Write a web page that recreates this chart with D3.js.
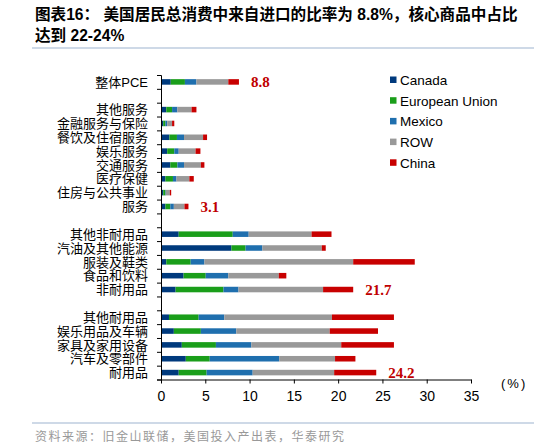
<!DOCTYPE html>
<html>
<head>
<meta charset="utf-8">
<script src="https://cdn.jsdelivr.net/npm/d3@7"></script>
<style>
  body { margin: 0; background: #fff; }
  svg { display: block; font-family: "Liberation Sans", "Noto Sans CJK SC", sans-serif; }
</style>
</head>
<body>
<script>
// 行（空行は区切り）
const categories = [
  "整体PCE", "",
  "其他服务", "金融服务与保险", "餐饮及住宿服务", "娱乐服务", "交通服务", "医疗保健", "住房与公共事业", "服务", "",
  "其他非耐用品", "汽油及其他能源", "服装及鞋类", "食品和饮料", "非耐用品", "",
  "其他耐用品", "娱乐用品及车辆", "家具及家用设备", "汽车及零部件", "耐用品"
];
const seriesNames = ["Canada", "European Union", "Mexico", "ROW", "China"];
const colors = ["#003a7d", "#1a9e1a", "#1f6fae", "#999999", "#c80000"];

// 各国の比率（%）
const canada = [1.1, null, 0.6, 0.25, 0.95, 0.7, 1.05, 0.5, 0.25, 0.5, null, 2.0, 7.95, 0.6, 2.55, 1.65, null, 0.9, 1.45, 2.35, 2.8, 2.0];
const eu     = [1.6, null, 0.65, 0.25, 0.85, 0.8, 0.8, 0.85, 0.25, 0.55, null, 6.1, 1.6, 2.75, 2.5, 5.4, null, 3.35, 3.05, 3.85, 2.7, 3.15];
const mexico = [1.3, null, 0.6, 0.2, 0.8, 0.5, 0.75, 0.4, 0.05, 0.4, null, 1.8, 1.9, 1.55, 2.55, 1.7, null, 2.9, 4.0, 4.0, 7.85, 5.2];
const row    = [3.6, null, 1.6, 0.55, 2.15, 1.9, 1.9, 1.45, 0.45, 1.2, null, 7.1, 6.7, 16.8, 5.7, 9.55, null, 12.15, 10.55, 10.15, 6.3, 9.2];
const china  = [1.2, null, 0.55, 0.25, 0.45, 0.55, 0.4, 0.5, 0.15, 0.45, null, 2.25, 0.45, 6.95, 0.85, 3.4, null, 7.0, 5.45, 5.95, 2.3, 4.75];

// 合計ラベル
const totalRows = [0, 9, 15, 21];
const totalLabels = ["8.8", "3.1", "21.7", "24.2"];
const xTicks = [0, 5, 10, 15, 20, 25, 30, 35];

const w = 534;
const h = 447;

const svg = d3.select("body").append("svg").attr("width", w).attr("height", h);

// タイトル
svg.append("text").attr("x", 35).attr("y", 20)
  .attr("font-size", "15.6px").attr("font-weight", "bold").attr("fill", "#000")
  .text("图表16：  美国居民总消费中来自进口的比率为 8.8%，核心商品中占比");
svg.append("text").attr("x", 35).attr("y", 41)
  .attr("font-size", "15.6px").attr("font-weight", "bold").attr("fill", "#000")
  .text("达到 22-24%");
svg.append("line").attr("x1", 32).attr("x2", 534).attr("y1", 48).attr("y2", 48)
  .attr("stroke", "#9db3cf").attr("stroke-width", 1);

// スケール
const xScale = d3.scaleLinear().domain([0, 35]).range([161, 471]);
const idx = d3.range(categories.length);
const yScale = d3.scaleBand().domain(idx).range([75, 379.5]).paddingInner(0.6).paddingOuter(0.3);
const yEdge = d3.scaleLinear().domain([0, categories.length]).range([75, 379.5]);

// 積み上げ
const table = idx.map(i => ({
  i: i,
  "Canada": canada[i] || 0,
  "European Union": eu[i] || 0,
  "Mexico": mexico[i] || 0,
  "ROW": row[i] || 0,
  "China": china[i] || 0
}));
const stacked = d3.stack().keys(seriesNames)(table);

svg.append("g").selectAll("g")
  .data(stacked)
  .enter().append("g")
  .attr("fill", (d, k) => colors[k])
  .selectAll("rect")
  .data(d => d.filter(p => p[1] - p[0] > 0))
  .enter().append("rect")
  .attr("x", d => xScale(d[0]))
  .attr("width", d => xScale(d[1]) - xScale(d[0]))
  .attr("y", d => yScale(d.data.i))
  .attr("height", yScale.bandwidth());

// Y軸（境界の目盛り）
const yAxisG = svg.append("g").attr("transform", "translate(161,0)")
  .call(d3.axisLeft(yEdge).tickValues(d3.range(categories.length + 1)).tickSize(4).tickFormat(""));
yAxisG.select(".domain").attr("stroke", "#000");
yAxisG.selectAll(".tick line").attr("stroke", "#000");

// Y軸ラベル
svg.append("g").selectAll("text")
  .data(idx.filter(i => categories[i] !== ""))
  .enter().append("text")
  .attr("x", 148)
  .attr("y", i => yScale(i) + yScale.bandwidth() / 2)
  .attr("dy", "0.36em")
  .attr("text-anchor", "end")
  .attr("font-size", "13px")
  .attr("fill", "#000")
  .text(i => categories[i]);

// X軸
const xAxisG = svg.append("g").attr("transform", "translate(0,379.5)")
  .call(d3.axisBottom(xScale).tickValues(xTicks).tickSize(4).tickSizeOuter(0));
xAxisG.selectAll("text").attr("font-size", "14px").attr("dy", "1.05em").attr("fill", "#000")
  .style("font-family", "'Liberation Sans', sans-serif");
xAxisG.select(".domain").attr("stroke", "#000");
xAxisG.selectAll(".tick line").attr("stroke", "#000");

svg.append("text").attr("x", 501).attr("y", 388)
  .attr("font-size", "13px").attr("letter-spacing", "2px").attr("fill", "#000").text("(%)");

// 合計ラベル
svg.append("g").selectAll("text")
  .data(totalRows)
  .enter().append("text")
  .attr("x", (r) => xScale(d3.sum([canada[r], eu[r], mexico[r], row[r], china[r]])) + 12)
  .attr("y", r => yScale(r) + yScale.bandwidth() / 2)
  .attr("dy", "0.36em")
  .attr("font-family", "'Liberation Serif', serif")
  .attr("font-weight", "bold")
  .attr("font-size", "15px")
  .attr("fill", "#c00000")
  .text((r, k) => totalLabels[k]);

// 凡例
const legend = svg.append("g").selectAll("g")
  .data(seriesNames)
  .enter().append("g")
  .attr("transform", (d, k) => "translate(390," + (80 + k * 20.7) + ")");
legend.append("rect").attr("x", 0).attr("y", -3.5).attr("width", 6.5).attr("height", 6.5)
  .attr("fill", (d, k) => colors[k]);
legend.append("text").attr("x", 10).attr("dy", "0.36em")
  .attr("font-size", "13.5px").attr("fill", "#000").text(d => d);

// フッター
svg.append("line").attr("x1", 32).attr("x2", 534).attr("y1", 423).attr("y2", 423)
  .attr("stroke", "#9db3cf").attr("stroke-width", 1);
svg.append("text").attr("x", 35).attr("y", 441)
  .attr("font-size", "12px").attr("letter-spacing", "1.5px").attr("fill", "#999")
  .text("资料来源：旧金山联储，美国投入产出表，华泰研究");
</script>
</body>
</html>
